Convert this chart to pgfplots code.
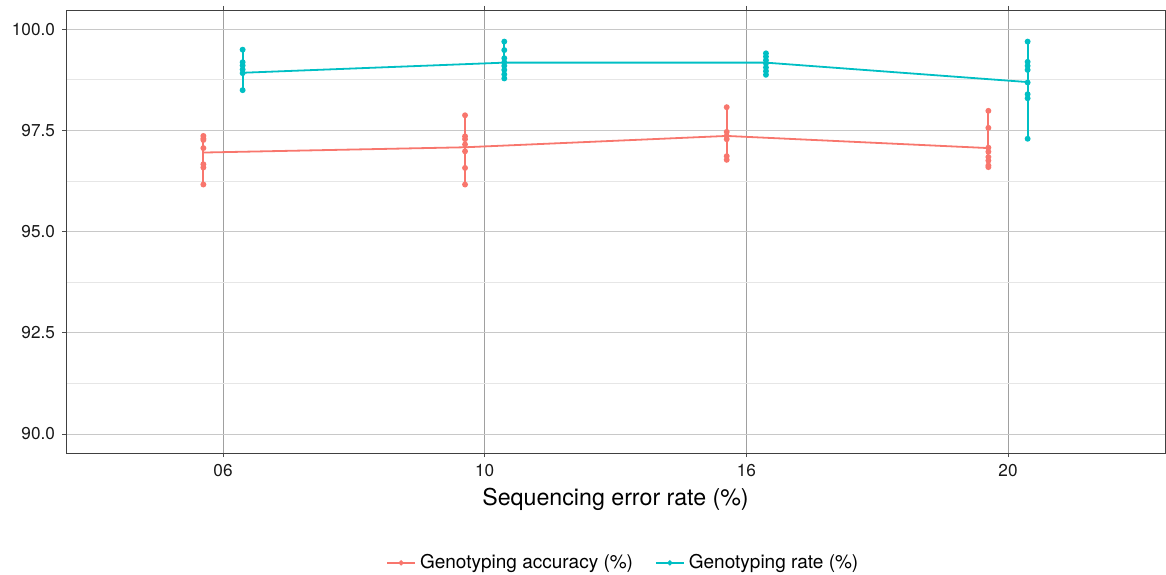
\documentclass[border=0pt]{standalone}
\usepackage{pgfplots}
\pgfplotsset{compat=1.18}
\usepackage{fontspec}
\setmainfont{TeX Gyre Heros}
\definecolor{cred}{HTML}{F8766D}
\definecolor{cteal}{HTML}{00BFC4}
\definecolor{gridmaj}{HTML}{C8C8C8}
\definecolor{gridmin}{HTML}{E6E6E6}
\definecolor{gridx}{HTML}{A0A0A0}
\begin{document}
\begin{tikzpicture}
\path[use as bounding box] (0,0) rectangle (583pt,287pt);
\begin{axis}[
  at={(33pt,60.5pt)}, anchor=south west,
  scale only axis, width=549.5pt, height=221.5pt,
  xmin=0.4, xmax=4.6, ymin=89.53, ymax=100.47,
  xtick={1,2,3,4}, xticklabels={06,10,16,20},
  ytick={90,92.5,95,97.5,100},
  minor ytick={91.25,93.75,96.25,98.75},
  yticklabel style={/pgf/number format/.cd,fixed,fixed zerofill,precision=1},
  /pgf/number format/assume math mode=true,
  ticklabel style={font=\fontsize{8.6pt}{10pt}\selectfont, text=black!90},
  tick align=outside, tick style={black!70, line width=0.4pt},
  major tick length=2pt, minor tick length=0pt,
  axis line style={black!75, line width=0.5pt},
  ymajorgrids, yminorgrids, xmajorgrids,
  y grid style={gridmaj, line width=0.4pt},
  minor y grid style={gridmin, line width=0.3pt},
  x grid style={gridx, line width=0.4pt},
  xlabel={Sequencing error rate (\%)},
  xlabel style={font=\fontsize{11.6pt}{13pt}\selectfont, yshift=1pt},
  legend columns=2,
  legend style={draw=none, fill=none, at={(0.508,-0.248)}, anchor=center,
    font=\fontsize{9.5pt}{11pt}\selectfont,
    /tikz/every even column/.append style={column sep=9pt}},
  legend image code/.code={
    \draw[#1, line width=0.9pt] (0pt,0pt) -- (14pt,0pt);
    \fill[#1] (7pt,0pt) circle (0.8pt);},
]
% red vertical ranges with points
\addplot[cred, line width=0.9pt, mark=*, mark size=1pt, forget plot] coordinates {(0.925,96.16)(0.925,96.58)(0.925,96.66)(0.925,97.06)(0.925,97.26)(0.925,97.30)(0.925,97.36)};
\addplot[cred, line width=0.9pt, mark=*, mark size=1pt, forget plot] coordinates {(1.925,96.16)(1.925,96.57)(1.925,96.98)(1.925,97.15)(1.925,97.28)(1.925,97.35)(1.925,97.87)};
\addplot[cred, line width=0.9pt, mark=*, mark size=1pt, forget plot] coordinates {(2.925,96.77)(2.925,96.86)(2.925,97.28)(2.925,97.36)(2.925,97.46)(2.925,98.07)};
\addplot[cred, line width=0.9pt, mark=*, mark size=1pt, forget plot] coordinates {(3.925,96.59)(3.925,96.63)(3.925,96.75)(3.925,96.84)(3.925,96.97)(3.925,97.07)(3.925,97.56)(3.925,97.98)};
% teal vertical ranges with points
\addplot[cteal, line width=0.9pt, mark=*, mark size=1pt, forget plot] coordinates {(1.075,98.49)(1.075,98.91)(1.075,99.00)(1.075,99.10)(1.075,99.18)(1.075,99.49)};
\addplot[cteal, line width=0.9pt, mark=*, mark size=1pt, forget plot] coordinates {(2.075,98.78)(2.075,98.88)(2.075,98.99)(2.075,99.09)(2.075,99.18)(2.075,99.28)(2.075,99.48)(2.075,99.69)};
\addplot[cteal, line width=0.9pt, mark=*, mark size=1pt, forget plot] coordinates {(3.075,98.87)(3.075,98.96)(3.075,99.05)(3.075,99.15)(3.075,99.23)(3.075,99.32)(3.075,99.40)};
\addplot[cteal, line width=0.9pt, mark=*, mark size=1pt, forget plot] coordinates {(4.075,97.29)(4.075,98.29)(4.075,98.39)(4.075,98.68)(4.075,98.99)(4.075,99.09)(4.075,99.19)(4.075,99.69)};
% mean lines
\addplot[cred, line width=0.9pt, no marks] coordinates {(0.925,96.95)(1.925,97.08)(2.925,97.36)(3.925,97.06)};
\addlegendentry{Genotyping accuracy (\%)}
\addplot[cteal, line width=0.9pt, no marks] coordinates {(1.075,98.92)(2.075,99.17)(3.075,99.17)(4.075,98.69)};
\addlegendentry{Genotyping rate (\%)}
\end{axis}
\end{tikzpicture}
\end{document}
